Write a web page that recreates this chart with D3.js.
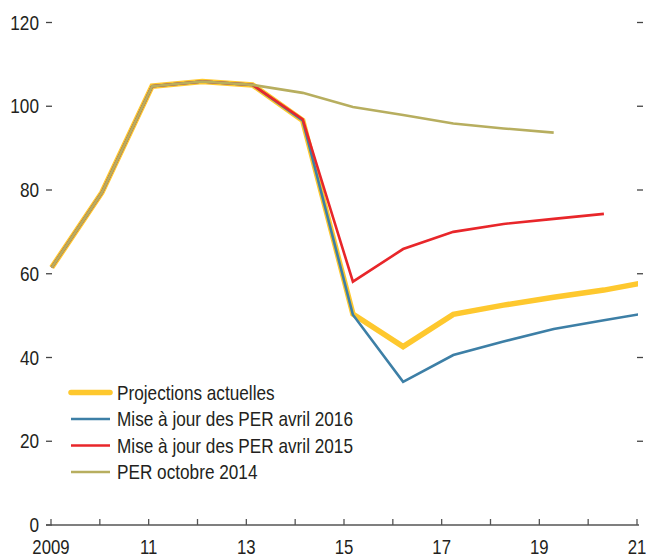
<!DOCTYPE html>
<html>
<head>
<meta charset="utf-8">
<script src="https://cdn.jsdelivr.net/npm/d3@7"></script>
<style>
  body { margin: 0; background: #fff; }
  text { font-family: "Liberation Sans", Arial, sans-serif; fill: #231f20; }
</style>
</head>
<body>
<script>
// categories
const years = [2009, 2010, 2011, 2012, 2013, 2014, 2015, 2016, 2017, 2018, 2019, 2020, 2021]
const tickYears = [2009, 2010, 2011, 2012, 2013, 2014, 2015, 2016, 2017, 2018, 2019, 2020, 2021]
const tickLabels = {2009: '2009', 2011: '11', 2013: '13', 2015: '15', 2017: '17', 2019: '19', 2021: '21'}
const yTicks = [0, 20, 40, 60, 80, 100, 120]

// series values
const actuelles = [61.5, 79.4, 104.8, 105.9, 105.1, 96.6, 50.4, 42.6, 50.3, 52.5, 54.4, 56.1, 58.3]
const per2016   = [61.5, 79.4, 104.8, 105.9, 105.1, 96.6, 50.2, 34.2, 40.6, 43.8, 46.8, 48.9, 50.9]
const per2015   = [61.5, 79.4, 104.8, 105.9, 105.1, 96.9, 58.1, 65.9, 70.0, 71.9, 73.1, 74.3]
const per2014   = [61.5, 79.4, 104.8, 105.9, 105.1, 103.2, 99.8, 97.9, 95.9, 94.7, 93.7]

const seriesNames = ['Projections actuelles', 'Mise à jour des PER avril 2016', 'Mise à jour des PER avril 2015', 'PER octobre 2014']
const seriesValues = [actuelles, per2016, per2015, per2014]
const colors = ['#fec82e', '#3d7fa6', '#e8262a', '#b7ae5f']
const widths = [5.5, 2.6, 2.6, 2.6]

const W = 646, H = 558
const plot = {left: 46, right: 638, top: 22.5, bottom: 525}
const squeeze = 0.86  // condensed look

const svg = d3.select('body').append('svg')
  .attr('width', W)
  .attr('height', H)

// axis scale (tick positions) and data scale (the points sit on a slightly wider grid)
const xAxis = d3.scaleLinear().domain([2009, 2021]).range([51, 637])
const x = d3.scaleLinear().domain([2009, 2021]).range([51.7, 654.1])
const y = d3.scaleLinear().domain([0, 120]).range([plot.bottom, plot.top])

svg.append('clipPath').attr('id', 'clip')
  .append('rect')
  .attr('x', 0).attr('y', 0)
  .attr('width', plot.right).attr('height', H)

const place = (px, py) => `translate(${px},${py}) scale(${squeeze},1)`

// y ticks left + labels
const yg = svg.append('g')
yg.selectAll('.ytl').data(yTicks).enter()
  .append('line')
  .attr('x1', plot.left).attr('x2', plot.left + 6)
  .attr('y1', d => y(d)).attr('y2', d => y(d))
  .attr('stroke', '#444').attr('stroke-width', 1.3)
yg.selectAll('.ytr').data(yTicks.filter(d => d > 0)).enter()
  .append('line')
  .attr('x1', 637).attr('x2', 643)
  .attr('y1', d => y(d)).attr('y2', d => y(d))
  .attr('stroke', '#444').attr('stroke-width', 1.3)
yg.selectAll('text').data(yTicks).enter()
  .append('text')
  .attr('transform', d => place(39, y(d)))
  .attr('dy', '0.35em')
  .attr('text-anchor', 'end')
  .attr('font-size', 20)
  .text(d => d)

// x axis
const xg = svg.append('g')
xg.append('line')
  .attr('x1', plot.left).attr('x2', 639)
  .attr('y1', y(0)).attr('y2', y(0))
  .attr('stroke', '#555').attr('stroke-width', 1.3)
xg.selectAll('.xt').data(tickYears).enter()
  .append('line')
  .attr('x1', d => xAxis(d)).attr('x2', d => xAxis(d))
  .attr('y1', y(0)).attr('y2', y(0) - 6)
  .attr('stroke', '#555').attr('stroke-width', 1.3)
xg.selectAll('text').data(tickYears.filter(d => tickLabels[d])).enter()
  .append('text')
  .attr('transform', d => place(xAxis(d), 553.5))
  .attr('text-anchor', 'middle')
  .attr('font-size', 19.5)
  .text(d => tickLabels[d])

// lines
const line = d3.line()
  .x((d, i) => x(years[i]))
  .y(d => y(d))

svg.append('g').attr('clip-path', 'url(#clip)')
  .selectAll('path').data(seriesValues).enter()
  .append('path')
  .attr('d', d => line(d))
  .attr('fill', 'none')
  .attr('stroke', (d, i) => colors[i])
  .attr('stroke-width', (d, i) => widths[i])
  .attr('stroke-linejoin', 'miter')

// legend
const lg = svg.append('g')
const rowY = [392.5, 419, 445.5, 472]
seriesNames.forEach((name, i) => {
  lg.append('line')
    .attr('x1', 71).attr('x2', 110)
    .attr('y1', rowY[i]).attr('y2', rowY[i])
    .attr('stroke', colors[i])
    .attr('stroke-width', widths[i])
    .attr('stroke-linecap', i === 0 ? 'round' : 'butt')
  lg.append('text')
    .attr('transform', place(117, rowY[i]))
    .attr('dy', '0.35em')
    .attr('font-size', 20)
    .text(name)
})
</script>
</body>
</html>
